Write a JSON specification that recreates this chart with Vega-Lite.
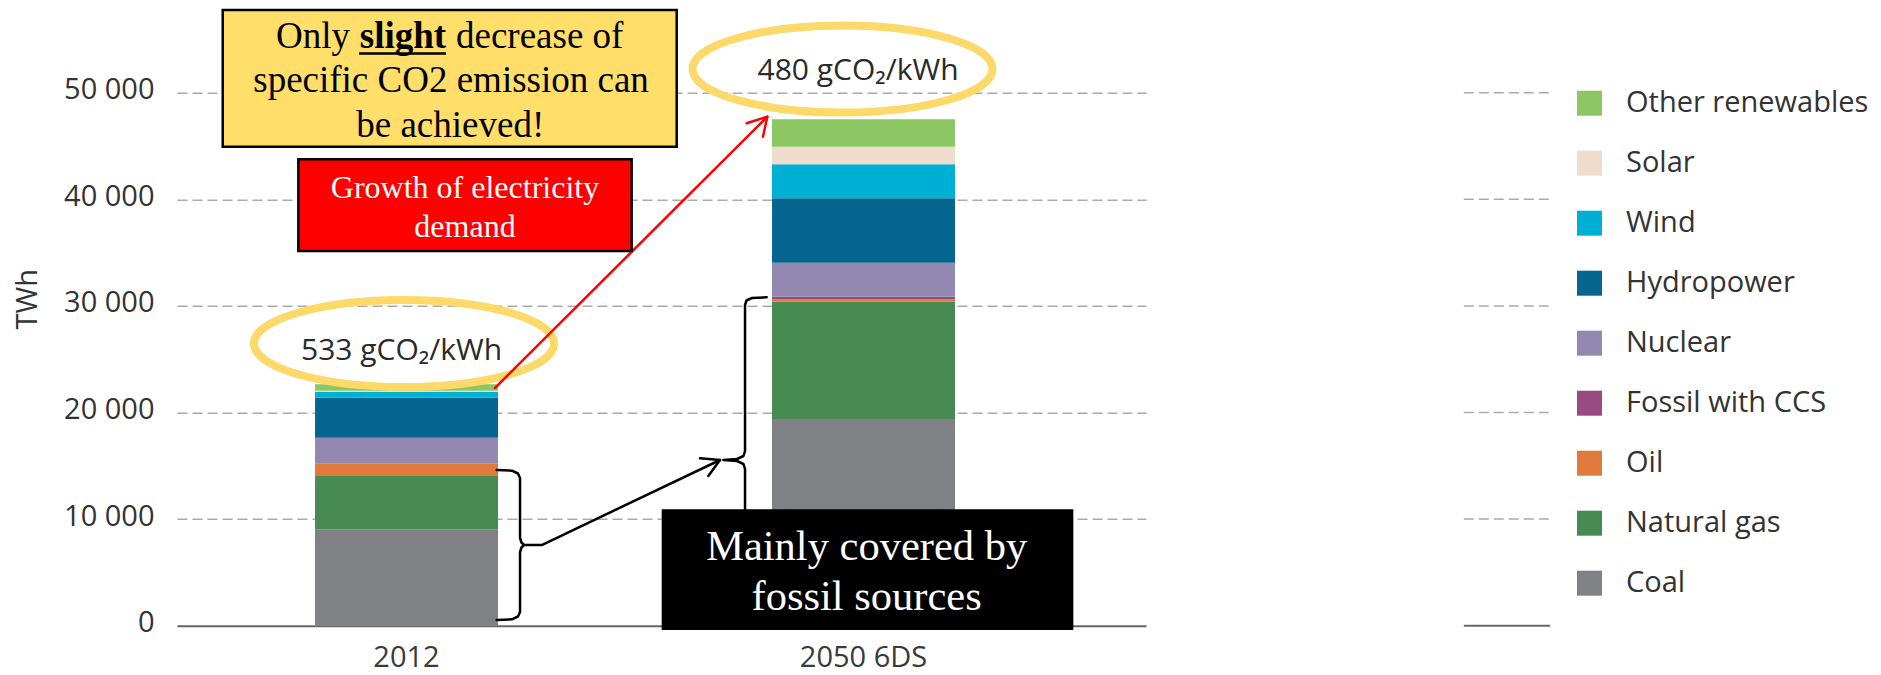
{
  "$schema": "https://vega.github.io/schema/vega-lite/v6.json",
  "width": 969,
  "height": 533,
  "autosize": {"type": "none"},
  "padding": {"left": 177, "top": 92.7, "right": 735, "bottom": 49.3},
  "background": "white",
  "config": {"view": {"stroke": null}, "font": "Open Sans"},
  "resolve": {"scale": {"x": "independent", "y": "independent"}},
  "layer": [
    {
      "data": {"values": [
        {"year": "2012", "source": "Coal", "twh": 9040, "rank": 1},
        {"year": "2012", "source": "Natural gas", "twh": 5000, "rank": 2},
        {"year": "2012", "source": "Oil", "twh": 1190, "rank": 3},
        {"year": "2012", "source": "Fossil with CCS", "twh": 0, "rank": 4},
        {"year": "2012", "source": "Nuclear", "twh": 2400, "rank": 5},
        {"year": "2012", "source": "Hydropower", "twh": 3750, "rank": 6},
        {"year": "2012", "source": "Wind", "twh": 560, "rank": 7},
        {"year": "2012", "source": "Solar", "twh": 100, "rank": 8},
        {"year": "2012", "source": "Other renewables", "twh": 600, "rank": 9},
        {"year": "2050 6DS", "source": "Coal", "twh": 19380, "rank": 1},
        {"year": "2050 6DS", "source": "Natural gas", "twh": 11010, "rank": 2},
        {"year": "2050 6DS", "source": "Oil", "twh": 220, "rank": 3},
        {"year": "2050 6DS", "source": "Fossil with CCS", "twh": 250, "rank": 4},
        {"year": "2050 6DS", "source": "Nuclear", "twh": 3190, "rank": 5},
        {"year": "2050 6DS", "source": "Hydropower", "twh": 6040, "rank": 6},
        {"year": "2050 6DS", "source": "Wind", "twh": 3190, "rank": 7},
        {"year": "2050 6DS", "source": "Solar", "twh": 1650, "rank": 8},
        {"year": "2050 6DS", "source": "Other renewables", "twh": 2570, "rank": 9}
      ]},
      "mark": {"type": "bar"},
      "encoding": {
        "x": {
          "field": "year", "type": "nominal",
          "scale": {"domain": ["2012", "2050 6DS"], "paddingInner": 0.5996, "paddingOuter": 0.36, "align": 0.4195},
          "axis": {
            "title": null, "labelAngle": 0, "labelFont": "Open Sans", "labelFontSize": 29,
            "labelColor": "#3a3a3a", "labelPadding": 18, "ticks": false,
            "domain": true, "domainColor": "#666666", "domainWidth": 2, "grid": false
          }
        },
        "y": {
          "field": "twh", "type": "quantitative", "stack": "zero",
          "scale": {"domain": [0, 50000], "nice": false},
          "axis": {
            "title": "TWh", "values": [0, 10000, 20000, 30000, 40000, 50000],
            "labelExpr": "replace(format(datum.value, ','), ',', ' ')",
            "domain": false, "ticks": false, "labelPadding": 23, "labelOffset": -3,
            "labelFont": "Open Sans", "labelFontSize": 29, "labelColor": "#333333",
            "grid": true, "gridColor": "#aaaaaa", "gridDash": [10, 5], "gridWidth": 1.5,
            "gridOpacity": {"condition": {"test": "datum.value === 0", "value": 0}, "value": 1},
            "titleFont": "Open Sans", "titleFontSize": 29, "titleFontWeight": "normal", "titleColor": "#333333",
            "titleAngle": -90, "titleX": -150, "titleY": 206, "titleAlign": "center", "titleBaseline": "middle"
          }
        },
        "color": {
          "field": "source", "type": "nominal",
          "scale": {
            "domain": ["Other renewables", "Solar", "Wind", "Hydropower", "Nuclear", "Fossil with CCS", "Oil", "Natural gas", "Coal"],
            "range": ["#8cc764", "#efdccd", "#00b0d4", "#066690", "#9389b0", "#984a82", "#e07a3a", "#488b52", "#7f8184"]
          },
          "legend": {
            "orient": "none", "legendX": 1398, "legendY": -4, "title": null,
            "symbolType": "square", "symbolSize": 625, "symbolStrokeWidth": 0, "symbolOpacity": 1,
            "labelFont": "Open Sans", "labelFontSize": 29, "labelColor": "#333333",
            "labelOffset": 22, "rowPadding": 30, "padding": 0, "labelLimit": 400
          }
        },
        "order": {"field": "rank", "type": "quantitative", "sort": "ascending"}
      }
    },
    {
      "data": {"values": [{"twh": 0}, {"twh": 10000}, {"twh": 20000}, {"twh": 30000}, {"twh": 40000}, {"twh": 50000}]},
      "mark": {"type": "rule"},
      "encoding": {
        "x": {"datum": 132.8, "type": "quantitative", "scale": {"domain": [0, 100], "nice": false, "zero": false}, "axis": null},
        "x2": {"datum": 141.7},
        "y": {"field": "twh", "type": "quantitative", "scale": {"domain": [0, 50000], "nice": false}, "axis": null},
        "color": {"condition": {"test": "datum.twh === 0", "value": "#666666"}, "value": "#aaaaaa"},
        "strokeDash": {"condition": {"test": "datum.twh === 0", "value": [1, 0]}, "value": [10, 5]},
        "strokeWidth": {"condition": {"test": "datum.twh === 0", "value": 2}, "value": 1.5}
      }
    },
    {
      "data": {"values": [{"u": 23.43, "twh": 26473}, {"u": 68.68, "twh": 52223}]},
      "mark": {"type": "point", "shape": "M -1 0 A 1 0.29 0 1 1 1 0 A 1 0.29 0 1 1 -1 0 Z", "size": 90000, "filled": false, "color": "#fdd96a", "strokeWidth": 8, "opacity": 1},
      "encoding": {
        "x": {"field": "u", "type": "quantitative", "scale": {"domain": [0, 100], "nice": false, "zero": false}, "axis": null},
        "y": {"field": "twh", "type": "quantitative", "scale": {"domain": [0, 50000], "nice": false}, "axis": null}
      }
    },
    {
      "data": {"values": [
        {"t": "533 gCO₂/kWh", "u": 23.17, "twh": 24925},
        {"t": "480 gCO₂/kWh", "u": 70.28, "twh": 51192}
      ]},
      "mark": {"type": "text", "font": "Open Sans", "fontSize": 30, "color": "#2a2a2a", "align": "center", "baseline": "alphabetic"},
      "encoding": {
        "x": {"field": "u", "type": "quantitative", "scale": {"domain": [0, 100], "nice": false, "zero": false}, "axis": null},
        "y": {"field": "twh", "type": "quantitative", "scale": {"domain": [0, 50000], "nice": false}, "axis": null},
        "text": {"field": "t"}
      }
    },
    {
      "data": {"values": [
        {"part": "brace2012", "i": 1, "u": 32.99, "twh": 14606},
        {"part": "brace2012", "i": 2, "u": 34.57, "twh": 14540},
        {"part": "brace2012", "i": 3, "u": 35.19, "twh": 14278},
        {"part": "brace2012", "i": 4, "u": 35.40, "twh": 13856},
        {"part": "brace2012", "i": 5, "u": 35.40, "twh": 8227},
        {"part": "brace2012", "i": 6, "u": 35.55, "twh": 7805},
        {"part": "brace2012", "i": 7, "u": 35.81, "twh": 7570},
        {"part": "brace2012", "i": 8, "u": 35.55, "twh": 7336},
        {"part": "brace2012", "i": 9, "u": 35.40, "twh": 6914},
        {"part": "brace2012", "i": 10, "u": 35.40, "twh": 1285},
        {"part": "brace2012", "i": 11, "u": 35.19, "twh": 863},
        {"part": "brace2012", "i": 12, "u": 34.57, "twh": 600},
        {"part": "brace2012", "i": 13, "u": 32.99, "twh": 535},
        {"part": "arrow", "i": 1, "u": 35.81, "twh": 7570},
        {"part": "arrow", "i": 2, "u": 37.64, "twh": 7570},
        {"part": "arrow", "i": 3, "u": 56.04, "twh": 15544},
        {"part": "arrowhead", "i": 1, "u": 53.97, "twh": 15704},
        {"part": "arrowhead", "i": 2, "u": 56.04, "twh": 15544},
        {"part": "arrowhead", "i": 3, "u": 54.83, "twh": 14043},
        {"part": "brace2050", "i": 1, "u": 60.86, "twh": 30807},
        {"part": "brace2050", "i": 2, "u": 59.34, "twh": 30741},
        {"part": "brace2050", "i": 3, "u": 58.77, "twh": 30507},
        {"part": "brace2050", "i": 4, "u": 58.62, "twh": 30084},
        {"part": "brace2050", "i": 5, "u": 58.62, "twh": 16388},
        {"part": "brace2050", "i": 6, "u": 58.46, "twh": 15919},
        {"part": "brace2050", "i": 7, "u": 57.79, "twh": 15638},
        {"part": "brace2050", "i": 8, "u": 56.38, "twh": 15544},
        {"part": "brace2050", "i": 9, "u": 57.79, "twh": 15450},
        {"part": "brace2050", "i": 10, "u": 58.46, "twh": 15169},
        {"part": "brace2050", "i": 11, "u": 58.62, "twh": 14700},
        {"part": "brace2050", "i": 12, "u": 58.62, "twh": 1004},
        {"part": "brace2050", "i": 13, "u": 58.77, "twh": 582},
        {"part": "brace2050", "i": 14, "u": 59.34, "twh": 347},
        {"part": "brace2050", "i": 15, "u": 60.86, "twh": 300}
      ]},
      "mark": {"type": "line", "color": "black", "strokeWidth": 2.5, "strokeJoin": "round", "strokeCap": "round"},
      "encoding": {
        "x": {"field": "u", "type": "quantitative", "scale": {"domain": [0, 100], "nice": false, "zero": false}, "axis": null},
        "y": {"field": "twh", "type": "quantitative", "scale": {"domain": [0, 50000], "nice": false}, "axis": null},
        "detail": {"field": "part"},
        "order": {"field": "i", "type": "quantitative"}
      }
    },
    {
      "data": {"values": [
        {"part": "shaft", "i": 1, "u": 32.82, "twh": 22298},
        {"part": "shaft", "i": 2, "u": 60.92, "twh": 47749},
        {"part": "head", "i": 1, "u": 58.79, "twh": 47129},
        {"part": "head", "i": 2, "u": 60.92, "twh": 47749},
        {"part": "head", "i": 3, "u": 60.47, "twh": 45872}
      ]},
      "mark": {"type": "line", "color": "#ff0000", "strokeWidth": 2.5, "strokeJoin": "round", "strokeCap": "round"},
      "encoding": {
        "x": {"field": "u", "type": "quantitative", "scale": {"domain": [0, 100], "nice": false, "zero": false}, "axis": null},
        "y": {"field": "twh", "type": "quantitative", "scale": {"domain": [0, 50000], "nice": false}, "axis": null},
        "detail": {"field": "part"},
        "order": {"field": "i", "type": "quantitative"}
      }
    },
    {
      "data": {"values": [{"u": 4.72, "u2": 51.57, "twh": 44934, "twh2": 57758}]},
      "mark": {"type": "rect", "fill": "#ffde6a", "stroke": "black", "strokeWidth": 2.5},
      "encoding": {
        "x": {"field": "u", "type": "quantitative", "scale": {"domain": [0, 100], "nice": false, "zero": false}, "axis": null},
        "x2": {"field": "u2"},
        "y": {"field": "twh", "type": "quantitative", "scale": {"domain": [0, 50000], "nice": false}, "axis": null},
        "y2": {"field": "twh2"}
      }
    },
    {
      "data": {"values": [{"u": 12.52, "u2": 46.92, "twh": 35150, "twh2": 43752}]},
      "mark": {"type": "rect", "fill": "#ff0000", "stroke": "black", "strokeWidth": 2.5},
      "encoding": {
        "x": {"field": "u", "type": "quantitative", "scale": {"domain": [0, 100], "nice": false, "zero": false}, "axis": null},
        "x2": {"field": "u2"},
        "y": {"field": "twh", "type": "quantitative", "scale": {"domain": [0, 50000], "nice": false}, "axis": null},
        "y2": {"field": "twh2"}
      }
    },
    {
      "data": {"values": [{"u": 50.02, "u2": 92.5, "twh": -403, "twh2": 10919}]},
      "mark": {"type": "rect", "fill": "black"},
      "encoding": {
        "x": {"field": "u", "type": "quantitative", "scale": {"domain": [0, 100], "nice": false, "zero": false}, "axis": null},
        "x2": {"field": "u2"},
        "y": {"field": "twh", "type": "quantitative", "scale": {"domain": [0, 50000], "nice": false}, "axis": null},
        "y2": {"field": "twh2"}
      }
    },
    {
      "data": {"values": [{"t": "Only", "u": 17.85, "twh": 54165}]},
      "mark": {"type": "text", "font": "Liberation Serif", "fontSize": 37, "color": "black", "align": "right", "baseline": "alphabetic"},
      "encoding": {
        "x": {"field": "u", "type": "quantitative", "scale": {"domain": [0, 100], "nice": false, "zero": false}, "axis": null},
        "y": {"field": "twh", "type": "quantitative", "scale": {"domain": [0, 50000], "nice": false}, "axis": null},
        "text": {"field": "t"}
      }
    },
    {
      "data": {"values": [{"t": "slight", "u": 23.32, "twh": 54165}]},
      "mark": {"type": "text", "font": "Liberation Serif", "fontSize": 37, "fontWeight": "bold", "color": "black", "align": "center", "baseline": "alphabetic"},
      "encoding": {
        "x": {"field": "u", "type": "quantitative", "scale": {"domain": [0, 100], "nice": false, "zero": false}, "axis": null},
        "y": {"field": "twh", "type": "quantitative", "scale": {"domain": [0, 50000], "nice": false}, "axis": null},
        "text": {"field": "t"}
      }
    },
    {
      "data": {"values": [{"u": 18.78, "u2": 27.76, "twh": 53677}]},
      "mark": {"type": "rule", "color": "black", "strokeWidth": 2.5},
      "encoding": {
        "x": {"field": "u", "type": "quantitative", "scale": {"domain": [0, 100], "nice": false, "zero": false}, "axis": null},
        "x2": {"field": "u2"},
        "y": {"field": "twh", "type": "quantitative", "scale": {"domain": [0, 50000], "nice": false}, "axis": null}
      }
    },
    {
      "data": {"values": [{"t": "decrease of", "u": 28.79, "twh": 54165}]},
      "mark": {"type": "text", "font": "Liberation Serif", "fontSize": 37, "color": "black", "align": "left", "baseline": "alphabetic"},
      "encoding": {
        "x": {"field": "u", "type": "quantitative", "scale": {"domain": [0, 100], "nice": false, "zero": false}, "axis": null},
        "y": {"field": "twh", "type": "quantitative", "scale": {"domain": [0, 50000], "nice": false}, "axis": null},
        "text": {"field": "t"}
      }
    },
    {
      "data": {"values": [
        {"t": "specific CO2 emission can", "u": 28.28, "twh": 50094},
        {"t": "be achieved!", "u": 28.2, "twh": 45872}
      ]},
      "mark": {"type": "text", "font": "Liberation Serif", "fontSize": 37, "color": "black", "align": "center", "baseline": "alphabetic"},
      "encoding": {
        "x": {"field": "u", "type": "quantitative", "scale": {"domain": [0, 100], "nice": false, "zero": false}, "axis": null},
        "y": {"field": "twh", "type": "quantitative", "scale": {"domain": [0, 50000], "nice": false}, "axis": null},
        "text": {"field": "t"}
      }
    },
    {
      "data": {"values": [
        {"t": "Growth of electricity", "u": 29.72, "twh": 40122},
        {"t": "demand", "u": 29.72, "twh": 36492}
      ]},
      "mark": {"type": "text", "font": "Liberation Serif", "fontSize": 32, "color": "white", "align": "center", "baseline": "alphabetic"},
      "encoding": {
        "x": {"field": "u", "type": "quantitative", "scale": {"domain": [0, 100], "nice": false, "zero": false}, "axis": null},
        "y": {"field": "twh", "type": "quantitative", "scale": {"domain": [0, 50000], "nice": false}, "axis": null},
        "text": {"field": "t"}
      }
    },
    {
      "data": {"values": [
        {"t": "Mainly covered by", "u": 71.17, "twh": 6163},
        {"t": "fossil sources", "u": 71.17, "twh": 1473}
      ]},
      "mark": {"type": "text", "font": "Liberation Serif", "fontSize": 42.5, "color": "white", "align": "center", "baseline": "alphabetic"},
      "encoding": {
        "x": {"field": "u", "type": "quantitative", "scale": {"domain": [0, 100], "nice": false, "zero": false}, "axis": null},
        "y": {"field": "twh", "type": "quantitative", "scale": {"domain": [0, 50000], "nice": false}, "axis": null},
        "text": {"field": "t"}
      }
    }
  ]
}
